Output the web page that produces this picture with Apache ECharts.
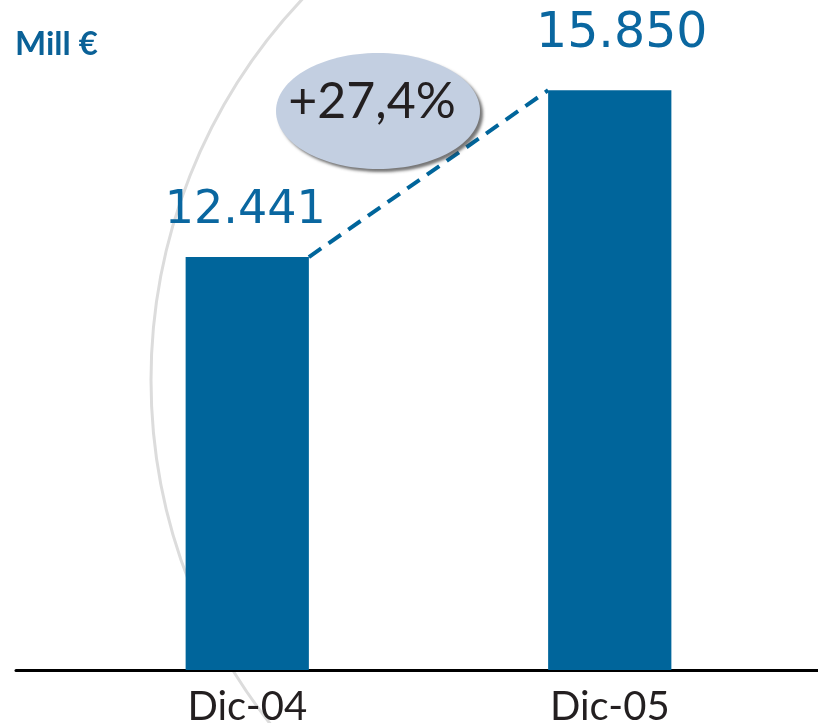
<!DOCTYPE html>
<html>
<head>
<meta charset="utf-8">
<style>
  html, body { margin: 0; padding: 0; background: #ffffff; }
  #chart { width: 818px; height: 723px; }
</style>
<script src="https://cdn.jsdelivr.net/npm/echarts@6/dist/echarts.min.js"></script>
</head>
<body>
<div id="chart"></div>
<script>
// Year-end totals, million euro
const categories = ['Dic-04', 'Dic-05'];
const totals = [12441, 15850];
const unitLabel = 'Mill €';

const BLUE = '#00659b';
const BAR_FRACTION = 0.34;

// Spanish number format: thousands with a dot, decimals with a comma
const fmtThousands = v => String(v).replace(/\B(?=(\d{3})+(?!\d))/g, '.');
const growth = (totals[1] / totals[0] - 1) * 100;
const growthText = '+' + growth.toFixed(1).replace('.', ',') + '%';

const valueLabelStyles = [
  { fontSize: 46, distance: 23, offset: [-2, 0] },
  { fontSize: 49, distance: 31, offset: [12, 0] }
];

const chart = echarts.init(document.getElementById('chart'), null, { renderer: 'canvas' });

chart.setOption({
  animation: false,
  backgroundColor: '#ffffff',
  grid: [
    { left: 66, right: 27, top: 34, bottom: 53, containLabel: false, outerBoundsMode: 'none' },
    { left: 16, right: 0, top: 34, bottom: 53, containLabel: false, outerBoundsMode: 'none' }
  ],
  xAxis: [
    {
      type: 'category', gridIndex: 0, data: categories,
      axisLine: { show: false }, axisTick: { show: false },
      axisLabel: { fontFamily: 'Lato', fontSize: 40, color: '#231f20', margin: 17 }
    },
    { type: 'value', gridIndex: 0, min: -0.5, max: 1.5, show: false },
    {
      type: 'value', gridIndex: 1, min: 0, max: 1,
      axisLine: { show: true, lineStyle: { color: '#000000', width: 3 } },
      axisTick: { show: false }, axisLabel: { show: false }, splitLine: { show: false }
    }
  ],
  yAxis: [
    { type: 'value', gridIndex: 0, min: 4000, max: 17000, show: false },
    { type: 'value', gridIndex: 1, min: 0, max: 1, show: false }
  ],
  graphic: [
    {
      type: 'circle', z: -10, silent: true,
      shape: { cx: 706, cy: 380, r: 555 },
      style: { fill: 'none', stroke: '#dcdcdc', lineWidth: 3 }
    },
    {
      type: 'ellipse', z: 10,
      shape: { cx: 378, cy: 111, rx: 102, ry: 58 },
      style: {
        fill: '#c3cfe1',
        shadowBlur: 3, shadowOffsetX: 3, shadowOffsetY: 3,
        shadowColor: 'rgba(60,60,60,0.7)'
      }
    },
    {
      type: 'text', z: 11,
      x: 372, y: 102,
      style: {
        text: growthText, fill: '#231f20',
        font: '50px Lato', align: 'center', verticalAlign: 'middle'
      }
    },
    {
      type: 'text', z: 11,
      x: 15, y: 44,
      style: {
        text: unitLabel, fill: '#0a6197',
        font: 'bold 33px Lato', align: 'left', verticalAlign: 'middle'
      }
    }
  ],
  series: [
    {
      type: 'bar', xAxisIndex: 0, yAxisIndex: 0,
      barWidth: (BAR_FRACTION * 100) + '%',
      itemStyle: { color: BLUE },
      data: totals.map((v, i) => ({
        value: v,
        label: {
          show: true, position: 'top',
          distance: valueLabelStyles[i].distance,
          offset: valueLabelStyles[i].offset,
          formatter: p => fmtThousands(p.value),
          fontFamily: 'DejaVu Sans',
          fontSize: valueLabelStyles[i].fontSize,
          color: '#0a67a0'
        }
      }))
    },
    {
      type: 'line', xAxisIndex: 1, yAxisIndex: 0,
      showSymbol: false, z: 3,
      lineStyle: { color: BLUE, width: 4, type: [15, 9] },
      data: [
        [0 + BAR_FRACTION / 2, totals[0]],
        [1 - BAR_FRACTION / 2, totals[1]]
      ]
    }
  ]
});
</script>
</body>
</html>
